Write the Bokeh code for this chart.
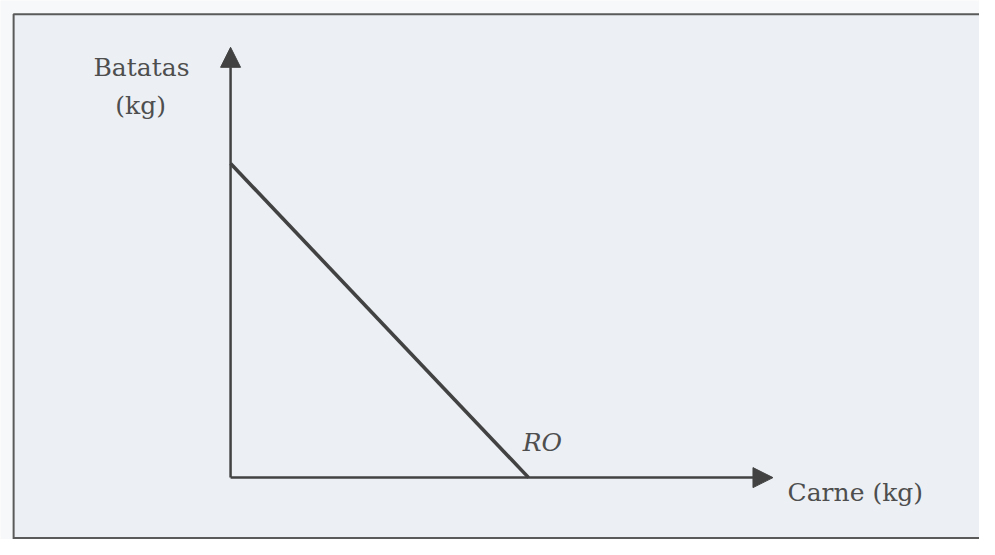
from bokeh.plotting import figure
from bokeh.models import Arrow, NormalHead
from bokeh.core.properties import value
from bokeh.embed import file_html
from bokeh.resources import INLINE

# Budget line (RO): quantities of meat and potatoes (kg)
carne = [0, 10]
batatas = [10, 0]
x_axis_end = 18.2
y_axis_end = 13.7
x_label = "Carne (kg)"
y_label_lines = ["Batatas", "(kg)"]
line_label = "RO"

W, H = 979, 539
p = figure(width=W, height=H, output_backend="svg", toolbar_location=None,
           x_range=(-7.72, 25.13), y_range=(-1.97, 15.19), min_border=0)
p.axis.visible = False
p.grid.visible = False
p.outline_line_color = None
p.background_fill_color = "#f7f8f9"
p.border_fill_color = "#f7f8f9"

# scanned box
p.quad(left=[-7.28], right=[40], top=[14.75], bottom=[-5], fill_color="#ecf0f5",
       line_color="#5a5a5a", line_width=2)
p.segment(x0=[-7.28], y0=[-1.92], x1=[40], y1=[-1.92], line_color="#5a5a5a", line_width=2)

ink = "#424242"
p.add_layout(Arrow(end=NormalHead(size=20, fill_color=ink, line_color=ink),
                   x_start=0, y_start=0, x_end=x_axis_end, y_end=0,
                   line_color=ink, line_width=2.5))
p.add_layout(Arrow(end=NormalHead(size=20, fill_color=ink, line_color=ink),
                   x_start=0, y_start=0, x_end=0, y_end=y_axis_end,
                   line_color=ink, line_width=2.5))

p.line(carne, batatas, line_color=ink, line_width=3.6)

txt = "#4e4e4e"
font = value("DejaVu Serif")
p.text(x=[-2.99, -3.02], y=[13.06, 11.85], text=y_label_lines, text_font=font,
       text_font_size="25px", text_color=txt, text_align="center", text_baseline="alphabetic")
p.text(x=[18.69], y=[-0.48], text=[x_label], text_font=font, text_font_size="25px",
       text_color=txt, text_align="left", text_baseline="alphabetic")
p.text(x=[9.80], y=[1.11], text=[line_label], text_font=font, text_font_style="italic",
       text_font_size="25px", text_color=txt, text_align="left", text_baseline="alphabetic")

open("out.html", "w").write(file_html(p, INLINE))
